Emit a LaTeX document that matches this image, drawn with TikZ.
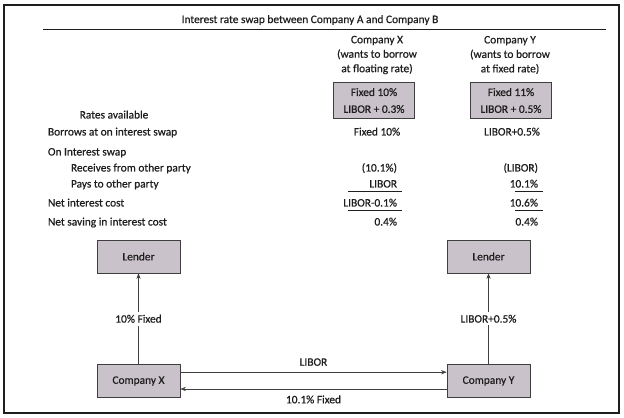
\documentclass[tikz,border=0pt]{standalone}
\usepackage{fontspec}
\setmainfont{Carlito}[FakeBold=0.6]
\usetikzlibrary{positioning, arrows.meta, calc}
\definecolor{boxFill}{HTML}{CAC2CA}
\definecolor{boxLine}{HTML}{3F3F3F}
\definecolor{inkGray}{HTML}{1E1E1E}

\begin{document}
\begin{tikzpicture}[
  x=0.025cm, y=-0.025cm,
  font=\fontsize{8.1pt}{10.3pt}\selectfont, text=inkGray,
  ratebox/.style={draw=boxLine, fill=boxFill, align=center,
                  minimum width=2.02cm, minimum height=0.9cm,
                  font=\fontsize{8.1pt}{12pt}\selectfont},
  partybox/.style={draw=boxLine, fill=boxFill,
                   minimum width=2.075cm, minimum height=0.825cm},
  rowtext/.style={anchor=base west},
  valtext/.style={anchor=base east},
  flow/.style={draw=boxLine, -{Stealth[length=4pt, width=3pt]}},
  tag/.style={fill=white, inner sep=2pt}
]
\useasboundingbox (0,0) rectangle (624,418);
\draw[line width=0.9pt, draw=inkGray] (4,5) rectangle (619,413);

% heading
\node (title) at (310,20) {Interest rate swap between Company A and Company B};
\draw[inkGray, line width=0.6pt] (43,29) -- (606,29);
\node[align=center] (headX) at (377,55) {Company X\\(wants to borrow\\at floating rate)};
\node[align=center] (headY) at (510,55) {Company Y\\(wants to borrow\\at fixed rate)};
\node[ratebox] (rateX) at (374,100.5) {Fixed 10\%\\LIBOR + 0.3\%};
\node[ratebox] (rateY) at (511,100.5) {Fixed 11\%\\LIBOR + 0.5\%};

% table rows
\node[anchor=base] (avail) at (114,118.5) {Rates available};
\node[rowtext] (borrow) at (43,135.5) {Borrows at on interest swap};
\node[rowtext] (onswap) at (43,155.5) {On Interest swap};
\node[rowtext] (receive) at (66,171.5) {Receives from other party};
\node[rowtext] (pay) at (66,187.5) {Pays to other party};
\node[rowtext] (netcost) at (43,206.5) {Net interest cost};
\node[rowtext] (netsave) at (43,225.5) {Net saving in interest cost};

\node[anchor=base] (borrowX) at (377,135.5) {Fixed 10\%};
\node[anchor=base] (borrowY) at (512,135.5) {LIBOR+0.5\%};
\node[valtext] (receiveX) at (402,171.5) {(10.1\%)};
\node[valtext] (receiveY) at (543,171.5) {(LIBOR)};
\node[valtext] (payX) at (402,187.5) {LIBOR};
\node[valtext] (payY) at (543,187.5) {10.1\%};
\node[valtext] (netcostX) at (402,206.5) {LIBOR-0.1\%};
\node[valtext] (netcostY) at (543,206.5) {10.6\%};
\node[valtext] (netsaveX) at (402,225.5) {0.4\%};
\node[valtext] (netsaveY) at (543,225.5) {0.4\%};

\draw[inkGray, line width=0.6pt] (348,191.5) -- (402,191.5);
\draw[inkGray, line width=0.6pt] (348,210.5) -- (402,210.5);
\draw[inkGray, line width=0.6pt] (515,191.5) -- (543,191.5);
\draw[inkGray, line width=0.6pt] (515,210.5) -- (543,210.5);

% swap flows
\node[partybox] (lendX) at (138.5,256.5) {Lender};
\node[partybox] (compX) at (138.5,381) {Company X};
\node[partybox] (lendY) at (488.5,256.5) {Lender};
\node[partybox] (compY) at (488.5,381) {Company Y};
\draw[flow] (compX) -- node[tag] {10\% Fixed} (lendX);
\draw[flow] (compY) -- node[tag] {LIBOR+0.5\%} (lendY);
\draw[flow] ([yshift=0.22cm]compX.east) -- node[above=1pt] {LIBOR} ([yshift=0.22cm]compY.west);
\draw[flow] ([yshift=-0.2cm]compY.west) -- node[below=1pt] {10.1\% Fixed} ([yshift=-0.2cm]compX.east);
\end{tikzpicture}
\end{document}
